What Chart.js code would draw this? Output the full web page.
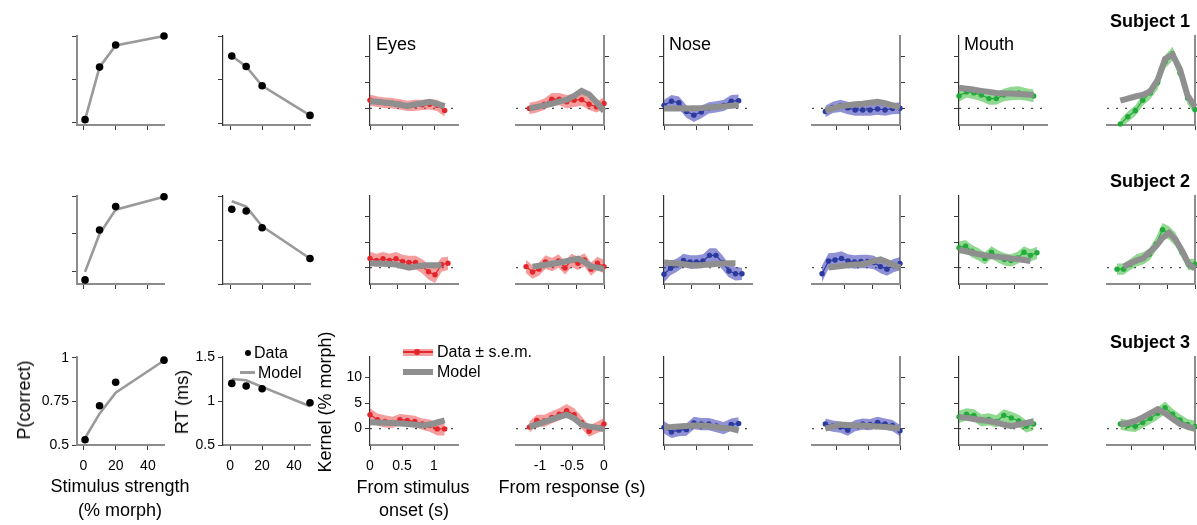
<!DOCTYPE html>
<html lang="en">
<head>
<meta charset="utf-8">
<title>Psychometric and kernel panels</title>
<script src="https://cdn.jsdelivr.net/npm/chart.js@4.4.1/dist/chart.umd.min.js"></script>
<style>
  html, body { margin: 0; padding: 0; background: #fff; }
  body { position: relative; width: 1197px; height: 525px; overflow: hidden;
         font-family: "Liberation Sans", Arial, Helvetica, sans-serif; color: #000; }
  canvas { position: absolute; }
  .txt { position: absolute; white-space: nowrap; line-height: 1; }
  .mark { position: absolute; }
</style>
</head>
<body>
<script>
// ---- Datos ----
// Fuerza del estímulo (% morph)
const strength = [1, 10, 20, 50];
const strengthTicks = [0, 20, 40];
const pcTicks = [0.5, 0.75, 1];
const rtTicks = [0.5, 1, 1.5];
const kernelTicks = [0, 5, 10];
const onsetTicks = [0, 0.5, 1];
const respTicks = [-1, -0.5, 0];

// Tiempos de los kernels (s)
const tOn11 = [0, 0.117, 0.233, 0.35, 0.467, 0.583, 0.7, 0.817, 0.933, 1.05, 1.167];
const tResp11 = [-1.167, -1.05, -0.933, -0.817, -0.7, -0.583, -0.467, -0.35, -0.233, -0.117, 0];
const tOn13 = [0, 0.117, 0.233, 0.35, 0.467, 0.583, 0.7, 0.817, 0.933, 1.05, 1.167, 1.283, 1.4];
const tResp13 = [-1.4, -1.283, -1.167, -1.05, -0.933, -0.817, -0.7, -0.583, -0.467, -0.35, -0.233, -0.117, 0];

// Sujeto 1
const s1Pc = [0.516, 0.82, 0.948, 1.0];
const s1PcFit = [0.516, 0.82, 0.945, 1.0];
const s1Rt = [1.27, 1.15, 0.93, 0.59];
const s1RtFit = [1.27, 1.15, 0.93, 0.59];
const s1EyesOn = [1.6, 1.3, 1.1, 1.0, 0.8, 0.5, 0.6, 0.7, 0.8, 0.6, -0.4];
const s1EyesOnSem = [1.1, 1.0, 1.0, 1.0, 1.0, 1.0, 1.1, 1.0, 1.0, 1.1, 1.2];
const s1EyesOnFit = [1.4, 1.3, 1.15, 0.95, 0.7, 0.5, 0.75, 1.0, 1.3, 0.9, 0.45];
const s1EyesResp = [0.0, 0.3, 0.8, 1.8, 1.8, 1.3, 1.6, 1.7, 0.8, 0.3, 0.95];
const s1EyesRespSem = [1.1, 1.1, 1.1, 1.2, 1.2, 1.3, 1.3, 1.2, 1.1, 1.1, 1.1];
const s1EyesRespFit = [0.0, 0.3, 0.6, 0.9, 1.3, 1.7, 2.4, 3.4, 2.7, 1.2, -0.5];
const s1NoseOn = [0.6, 1.4, 1.1, -0.6, -1.3, -0.7, 0.1, 0.3, 0.6, 1.4, 1.5];
const s1NoseOnSem = [1.1, 1.2, 1.2, 1.2, 1.3, 1.2, 1.1, 1.1, 1.1, 1.2, 1.2];
const s1NoseOnFit = [0.0, 0.0, 0.0, 0.0, 0.05, 0.1, 0.2, 0.3, 0.4, 0.5, 0.6];
const s1NoseResp = [-0.6, 0.2, 0.5, 0.1, -0.3, -0.3, -0.3, -0.1, -0.3, 0.0, 0.05];
const s1NoseRespSem = [1.1, 1.1, 1.2, 1.2, 1.1, 1.1, 1.1, 1.1, 1.1, 1.1, 1.1];
const s1NoseRespFit = [-0.4, 0.0, 0.4, 0.6, 0.8, 0.9, 1.1, 1.3, 1.0, 0.6, 0.2];
const s1MouthOn = [2.4, 3.2, 3.0, 2.6, 1.9, 1.9, 2.6, 2.9, 3.0, 2.7, 2.4];
const s1MouthOnSem = [1.1, 1.1, 1.2, 1.2, 1.2, 1.2, 1.2, 1.3, 1.3, 1.2, 1.2];
const s1MouthOnFit = [4.0, 3.8, 3.6, 3.4, 3.2, 3.0, 2.9, 2.9, 2.8, 2.7, 2.6];
const s1MouthResp = [-3.0, -1.6, -0.45, 1.6, 3.0, 5.0, 9.0, 10.6, 6.8, 2.0, -0.2];
const s1MouthRespSem = [0.9, 1.0, 1.0, 1.1, 1.2, 1.3, 1.3, 1.3, 1.3, 1.2, 1.0];
const s1MouthRespFit = [1.5, 1.9, 2.3, 2.6, 3.3, 5.5, 9.6, 10.4, 7.5, 2.5, 0.3];

// Sujeto 2
const s2Pc = [0.447, 0.776, 0.93, 0.995];
const s2PcFit = [0.5, 0.75, 0.91, 0.995];
const s2Rt = [1.35, 1.33, 1.14, 0.79];
const s2RtFit = [1.44, 1.38, 1.155, 0.79];
const s2EyesOn = [1.8, 1.4, 1.75, 1.4, 1.75, 1.2, 1.0, 1.0, 0.3, -0.8, -1.4, 0.6, 0.85];
const s2EyesOnSem = [1.3, 1.3, 1.3, 1.3, 1.3, 1.3, 1.3, 1.3, 1.4, 1.5, 1.6, 1.4, 1.3];
const s2EyesOnFit = [0.85, 0.8, 0.75, 0.7, 0.6, 0.3, 0.0, 0.2, 0.4, 0.45, 0.45, 0.45, null];
const s2EyesResp = [0.2, -0.85, -0.3, 1.1, 0.6, 1.3, -0.05, 1.4, 0.85, 1.5, -0.3, 0.85, 0.2];
const s2EyesRespSem = [1.3, 1.3, 1.3, 1.3, 1.3, 1.3, 1.3, 1.3, 1.3, 1.3, 1.3, 1.3, 1.3];
const s2EyesRespFit = [null, 0.2, 0.35, 0.55, 0.75, 0.95, 1.2, 1.5, 1.75, 1.1, 0.25, 0.0, -0.3];
const s2NoseOn = [-1.3, -0.1, 0.5, 1.4, 1.1, 1.1, 1.3, 2.4, 2.4, 1.0, -0.65, -1.2, -1.2];
const s2NoseOnSem = [1.6, 1.4, 1.3, 1.3, 1.3, 1.3, 1.3, 1.4, 1.4, 1.4, 1.3, 1.3, 1.2];
const s2NoseOnFit = [1.0, 0.9, 0.8, 0.65, 0.5, 0.45, 0.5, 0.6, 0.7, 0.8, 0.85, 0.85, null];
const s2NoseResp = [-1.2, 1.3, 1.5, 1.8, 1.3, 1.1, 1.2, 1.2, 1.0, 0.2, -0.3, 0.4, 0.8];
const s2NoseRespSem = [1.6, 1.5, 1.4, 1.4, 1.3, 1.3, 1.3, 1.3, 1.3, 1.3, 1.3, 1.3, 1.3];
const s2NoseRespFit = [null, 0.0, 0.15, 0.3, 0.45, 0.6, 0.65, 0.9, 1.3, 1.6, 1.1, 0.5, 0.0];
const s2MouthOn = [3.9, 4.2, 3.2, 2.6, 1.8, 3.0, 2.2, 1.6, 1.4, 1.9, 3.0, 2.4, 2.9];
const s2MouthOnSem = [1.2, 1.2, 1.2, 1.2, 1.2, 1.2, 1.2, 1.2, 1.2, 1.2, 1.2, 1.2, 1.2];
const s2MouthOnFit = [3.5, 3.2, 2.9, 2.6, 2.4, 2.2, 2.1, 2.0, 1.8, 1.7, 1.5, 1.3, null];
const s2MouthResp = [-0.3, -0.3, 0.6, 1.4, 1.8, 2.6, 4.6, 7.4, 6.8, 5.5, 3.0, 0.6, 0.65];
const s2MouthRespSem = [1.1, 1.1, 1.1, 1.2, 1.2, 1.2, 1.3, 1.3, 1.3, 1.3, 1.2, 1.1, 1.1];
const s2MouthRespFit = [null, 0.2, 0.8, 1.4, 1.8, 3.0, 4.2, 5.8, 6.8, 5.5, 3.3, 0.8, -0.2];

// Sujeto 3
const s3Pc = [0.53, 0.725, 0.86, 0.987];
const s3PcFit = [0.54, 0.68, 0.80, 0.985];
const s3Rt = [1.2, 1.17, 1.14, 0.98];
const s3RtFit = [1.25, 1.235, 1.16, 0.94];
const s3EyesOn = [2.7, 1.75, 1.4, 1.2, 1.75, 1.6, 1.4, 0.9, 0.6, -0.05, -0.05];
const s3EyesOnSem = [1.3, 1.2, 1.2, 1.1, 1.1, 1.1, 1.1, 1.1, 1.2, 1.3, 1.3];
const s3EyesOnFit = [1.25, 1.2, 1.15, 1.1, 1.0, 0.9, 0.75, 0.6, 0.8, 1.2, 1.6];
const s3EyesResp = [0.3, 1.6, 1.5, 2.2, 2.8, 3.5, 2.7, 1.2, -0.5, 0.2, 0.9];
const s3EyesRespSem = [1.1, 1.1, 1.2, 1.2, 1.2, 1.3, 1.3, 1.2, 1.1, 1.1, 1.2];
const s3EyesRespFit = [0.4, 0.8, 1.3, 1.8, 2.3, 2.7, 2.0, 0.8, 0.4, 0.2, -0.1];
const s3NoseOn = [0.25, -0.65, -0.3, -0.2, 1.1, 0.9, 0.9, 0.5, 0.1, 0.8, 1.0];
const s3NoseOnSem = [1.2, 1.2, 1.2, 1.2, 1.2, 1.2, 1.2, 1.2, 1.2, 1.2, 1.2];
const s3NoseOnFit = [0.25, 0.3, 0.4, 0.5, 0.6, 0.6, 0.5, 0.3, 0.1, 0.0, -0.4];
const s3NoseResp = [0.9, 0.5, 0.3, -0.3, 0.6, 0.9, 0.8, 1.2, 0.9, 0.6, -0.4];
const s3NoseRespSem = [1.1, 1.1, 1.1, 1.1, 1.1, 1.1, 1.1, 1.1, 1.1, 1.1, 1.1];
const s3NoseRespFit = [0.0, 0.4, 0.8, 0.7, 0.6, 0.6, 0.5, 0.4, 0.3, 0.2, 0.0];
const s3MouthOn = [2.3, 2.8, 2.6, 1.6, 1.8, 1.4, 2.6, 2.1, 1.5, 0.45, 0.9];
const s3MouthOnSem = [1.2, 1.2, 1.2, 1.2, 1.2, 1.2, 1.2, 1.2, 1.2, 1.2, 1.2];
const s3MouthOnFit = [2.3, 2.1, 1.9, 1.7, 1.5, 1.2, 0.8, 0.5, 0.8, 1.1, 1.4];
const s3MouthResp = [0.9, 0.6, 0.45, 1.2, 2.0, 3.0, 4.1, 2.8, 1.7, 0.8, 0.45];
const s3MouthRespSem = [1.1, 1.1, 1.1, 1.1, 1.1, 1.2, 1.2, 1.1, 1.1, 1.1, 1.1];
const s3MouthRespFit = [0.8, 1.1, 1.5, 2.2, 3.0, 3.8, 3.0, 1.9, 0.9, 0.4, 0.0];

// ---- Estilo y maquetación ----
const FONT = '"Liberation Sans", Arial, Helvetica, sans-serif';
const PAD_L = 60, PAD_R = 60, PAD_T = 12, PAD_B = 40;
const COL_X = [77, 223, 370, 516, 664, 812, 959, 1107];
const COL_W = [87, 87, 88, 88, 88, 88, 88, 88];
const MODEL_GRAY = '#8f8f8f';
const AXIS_GRAY = '#8c8c8c';

const regionColors = [
  { dot: '#e3262c', band: 'rgba(236, 78, 78, 0.55)' },   // eyes
  { dot: '#2b3a9e', band: 'rgba(72, 72, 186, 0.6)' },    // nose
  { dot: '#22ab3c', band: 'rgba(72, 190, 72, 0.6)' }     // mouth
];

const rows = [
  { top: 36, h: 89, span: 1.375, tOn: tOn11, tResp: tResp11,
    pc: s1Pc, pcFit: s1PcFit, pcY: [0.485, 1], rt: s1Rt, rtFit: s1RtFit, rtY: [0.48, 1.5],
    kernels: [
      [s1EyesOn, s1EyesOnSem, s1EyesOnFit, s1EyesResp, s1EyesRespSem, s1EyesRespFit],
      [s1NoseOn, s1NoseOnSem, s1NoseOnFit, s1NoseResp, s1NoseRespSem, s1NoseRespFit],
      [s1MouthOn, s1MouthOnSem, s1MouthOnFit, s1MouthResp, s1MouthRespSem, s1MouthRespFit]
    ] },
  { top: 196, h: 88, span: 1.58, tOn: tOn13, tResp: tResp13,
    pc: s2Pc, pcFit: s2PcFit, pcY: [0.42, 1], rt: s2Rt, rtFit: s2RtFit, rtY: [0.5, 1.5],
    kernels: [
      [s2EyesOn, s2EyesOnSem, s2EyesOnFit, s2EyesResp, s2EyesRespSem, s2EyesRespFit],
      [s2NoseOn, s2NoseOnSem, s2NoseOnFit, s2NoseResp, s2NoseRespSem, s2NoseRespFit],
      [s2MouthOn, s2MouthOnSem, s2MouthOnFit, s2MouthResp, s2MouthRespSem, s2MouthRespFit]
    ] },
  { top: 357, h: 88, span: 1.375, tOn: tOn11, tResp: tResp11,
    pc: s3Pc, pcFit: s3PcFit, pcY: [0.5, 1.005], rt: s3Rt, rtFit: s3RtFit, rtY: [0.5, 1.5],
    kernels: [
      [s3EyesOn, s3EyesOnSem, s3EyesOnFit, s3EyesResp, s3EyesRespSem, s3EyesRespFit],
      [s3NoseOn, s3NoseOnSem, s3NoseOnFit, s3NoseResp, s3NoseRespSem, s3NoseRespFit],
      [s3MouthOn, s3MouthOnSem, s3MouthOnFit, s3MouthResp, s3MouthRespSem, s3MouthRespFit]
    ] }
];

// Línea punteada en cero
const zeroLine = {
  id: 'zeroLine',
  beforeDatasetsDraw(chart) {
    const { ctx, chartArea, scales } = chart;
    const py = scales.y.getPixelForValue(0);
    ctx.save();
    ctx.strokeStyle = '#4a4a4a';
    ctx.lineWidth = 1.2;
    ctx.setLineDash([2, 7]);
    ctx.beginPath();
    ctx.moveTo(chartArea.left, py);
    ctx.lineTo(chartArea.right, py);
    ctx.stroke();
    ctx.restore();
  }
};

function toPts(xs, ys) {
  return ys.map((v, i) => ({ x: xs[i], y: v }));
}

function makePanel(p) {
  const c = document.createElement('canvas');
  c.width = p.w + PAD_L + PAD_R;
  c.height = p.h + PAD_T + PAD_B;
  c.style.left = (p.left - PAD_L) + 'px';
  c.style.top = (p.top - PAD_T) + 'px';
  document.body.appendChild(c);

  const tickFont = { family: FONT, size: 14 };
  const grid = { drawOnChartArea: false, drawTicks: true, tickLength: 5, color: '#3a3a3a', lineWidth: 1 };

  return new Chart(c.getContext('2d'), {
    type: 'line',
    data: { datasets: p.datasets },
    options: {
      responsive: false,
      animation: false,
      events: [],
      layout: { padding: { left: p.yRight ? PAD_L : 0, right: p.yRight ? 0 : PAD_R, top: PAD_T, bottom: 0 } },
      plugins: { legend: { display: false }, tooltip: { enabled: false } },
      scales: {
        x: {
          type: 'linear', min: p.xMin, max: p.xMax,
          afterBuildTicks: s => { s.ticks = p.xTicks.map(v => ({ value: v })); },
          afterFit: s => { s.height = PAD_B; },
          ticks: { display: p.showX, autoSkip: false, maxRotation: 0, padding: 8,
                   color: '#000', font: tickFont, callback: v => String(v) },
          grid: grid,
          border: { display: true, color: AXIS_GRAY, width: 2 }
        },
        y: {
          type: 'linear', position: p.yRight ? 'right' : 'left', min: p.yMin, max: p.yMax,
          afterBuildTicks: s => { s.ticks = p.yTicks.map(v => ({ value: v })); },
          afterFit: s => { s.width = p.yRight ? PAD_R : PAD_L; },
          ticks: { display: p.showY, autoSkip: false, padding: 3,
                   color: '#000', font: tickFont, callback: v => String(v) },
          grid: grid,
          border: p.yBorder
        }
      }
    },
    plugins: p.zero ? [zeroLine] : []
  });
}

function behaviorSets(vals, fit) {
  return [
    { data: toPts(strength, vals), showLine: false, pointRadius: 3.8,
      pointBackgroundColor: '#000', pointBorderWidth: 0, clip: false },
    { data: toPts(strength, fit), borderColor: '#9a9a9a', borderWidth: 2.6,
      pointRadius: 0, clip: false }
  ];
}

function kernelSets(t, vals, sem, fit, col) {
  return [
    { data: toPts(t, fit), borderColor: MODEL_GRAY, borderWidth: 6, pointRadius: 0,
      fill: false, clip: false, spanGaps: false },
    { data: toPts(t, vals), borderColor: col.dot, borderWidth: 1.2, pointRadius: 2.7,
      pointBackgroundColor: col.dot, pointBorderWidth: 0, fill: false, clip: false },
    { data: toPts(t, vals.map((v, i) => v + sem[i])), borderColor: 'transparent', borderWidth: 0,
      pointRadius: 0, backgroundColor: col.band, fill: '+1' },
    { data: toPts(t, vals.map((v, i) => v - sem[i])), borderColor: 'transparent', borderWidth: 0,
      pointRadius: 0, fill: false }
  ];
}

function addText(str, x, y, o = {}) {
  const d = document.createElement('div');
  d.className = 'txt';
  d.textContent = str;
  d.style.fontSize = (o.size || 18) + 'px';
  if (o.bold) d.style.fontWeight = 'bold';
  d.style.left = x + 'px';
  d.style.top = y + 'px';
  const ax = o.align === 'left' ? '0' : o.align === 'right' ? '-100%' : '-50%';
  d.style.transform = 'translate(' + ax + ', -50%)' + (o.rotate ? ' rotate(-90deg)' : '');
  document.body.appendChild(d);
}

function addMark(x, y, w, h, color, radius) {
  const d = document.createElement('div');
  d.className = 'mark';
  d.style.left = x + 'px';
  d.style.top = y + 'px';
  d.style.width = w + 'px';
  d.style.height = h + 'px';
  d.style.background = color;
  if (radius) d.style.borderRadius = radius + 'px';
  document.body.appendChild(d);
}

// ---- Paneles ----
const thinDark = { display: true, color: '#333', width: 1.2 };
const thickGray = { display: true, color: AXIS_GRAY, width: 2 };

rows.forEach((r, ri) => {
  const last = ri === rows.length - 1;

  makePanel({ left: COL_X[0], top: r.top, w: COL_W[0], h: r.h,
    xMin: -4, xMax: 50, yMin: r.pcY[0], yMax: r.pcY[1],
    xTicks: strengthTicks, yTicks: pcTicks, showX: last, showY: last, yRight: false,
    yBorder: thickGray, datasets: behaviorSets(r.pc, r.pcFit) });

  makePanel({ left: COL_X[1], top: r.top, w: COL_W[1], h: r.h,
    xMin: -4.5, xMax: 50, yMin: r.rtY[0], yMax: r.rtY[1],
    xTicks: strengthTicks, yTicks: rtTicks, showX: last, showY: last, yRight: false,
    yBorder: thinDark, datasets: behaviorSets(r.rt, r.rtFit) });

  r.kernels.forEach((k, gi) => {
    const col = regionColors[gi];
    const cOn = 2 + gi * 2, cResp = 3 + gi * 2;
    const labelled = last && gi === 0;
    makePanel({ left: COL_X[cOn], top: r.top, w: COL_W[cOn], h: r.h,
      xMin: 0, xMax: r.span, yMin: -3.2, yMax: 14,
      xTicks: onsetTicks, yTicks: kernelTicks, showX: labelled, showY: labelled, yRight: false,
      yBorder: thinDark, zero: true, datasets: kernelSets(r.tOn, k[0], k[1], k[2], col) });
    makePanel({ left: COL_X[cResp], top: r.top, w: COL_W[cResp], h: r.h,
      xMin: -r.span, xMax: 0, yMin: -3.2, yMax: 14,
      xTicks: respTicks, yTicks: kernelTicks, showX: labelled, showY: false, yRight: true,
      yBorder: thickGray, zero: true, datasets: kernelSets(r.tResp, k[3], k[4], k[5], col) });
  });

  addText('Subject ' + (ri + 1), 1190, r.top - 15.5, { bold: true, align: 'right' });
});

// ---- Textos ----
addText('Eyes', COL_X[2] + 6, 44, { align: 'left' });
addText('Nose', COL_X[4] + 5, 44, { align: 'left' });
addText('Mouth', COL_X[6] + 5, 44, { align: 'left' });

addText('P(correct)', 24, 400, { rotate: true });
addText('RT (ms)', 182, 402, { rotate: true });
addText('Kernel (% morph)', 325, 402, { rotate: true });

addText('Stimulus strength', 120, 486);
addText('(% morph)', 120, 510);
addText('From stimulus', 413, 487);
addText('onset (s)', 414, 510);
addText('From response (s)', 572, 487);

// Leyenda conductual
addMark(245, 349.7, 6, 6, '#000', 3);
addText('Data', 254, 352.7, { size: 16, align: 'left' });
addMark(240, 371.4, 15, 2.6, '#9a9a9a');
addText('Model', 258, 372.7, { size: 16, align: 'left' });

// Leyenda de kernels
addMark(403, 348.5, 30, 7, regionColors[0].band);
addMark(403, 351.4, 30, 1.2, regionColors[0].dot);
addMark(414.3, 349.3, 5.4, 5.4, regionColors[0].dot, 2.7);
addText('Data \u00b1 s.e.m.', 437, 352, { size: 16, align: 'left' });
addMark(403, 368.7, 30, 6, MODEL_GRAY);
addText('Model', 437, 371.7, { size: 16, align: 'left' });
</script>
</body>
</html>
